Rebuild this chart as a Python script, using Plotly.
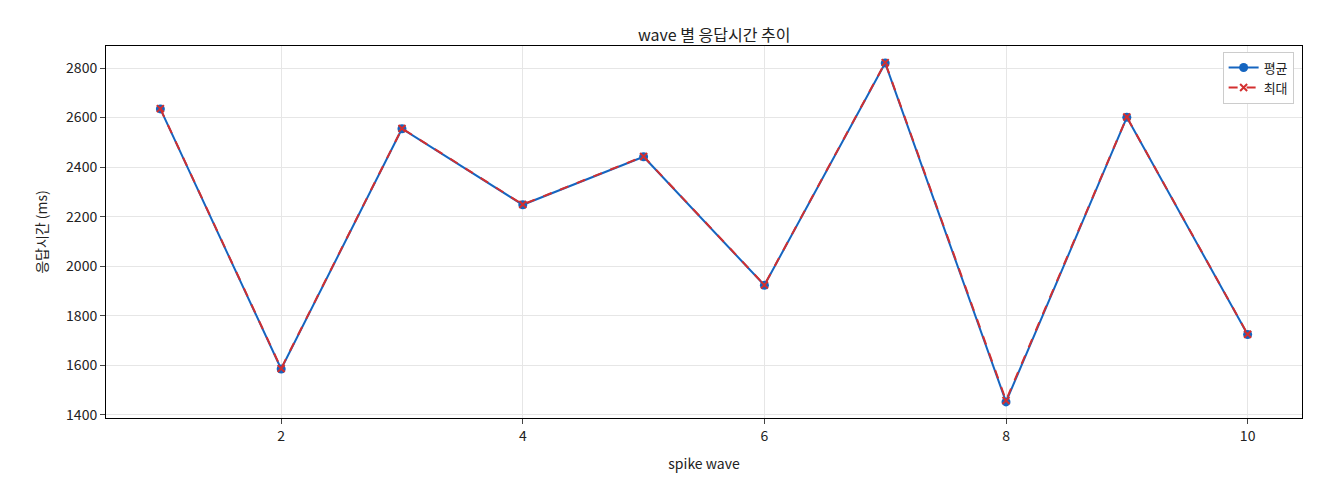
import plotly.graph_objects as go

waves = [1, 2, 3, 4, 5, 6, 7, 8, 9, 10]
avg_ms = [2635, 1585, 2555, 2248, 2442, 1923, 2820, 1452, 2601, 1724]
max_ms = [2636, 1587, 2556, 2249, 2443, 1924, 2822, 1458, 2602, 1725]
y_ticks = [1400, 1600, 1800, 2000, 2200, 2400, 2600, 2800]

fig = go.Figure()
fig.add_trace(go.Scatter(x=waves, y=avg_ms, name="평균", mode="lines+markers",
                         line=dict(color="#1565c0", width=2),
                         marker=dict(symbol="circle", size=9, color="#1565c0")))
fig.add_trace(go.Scatter(x=waves, y=max_ms, name="최대", mode="lines+markers",
                         line=dict(color="#d32f2f", width=2, dash="dash"),
                         marker=dict(symbol="x-thin", size=7, color="#d32f2f",
                                     line=dict(color="#d32f2f", width=2))))
fig.update_layout(
    width=1320, height=480, plot_bgcolor="white", paper_bgcolor="white",
    font=dict(family="Noto Sans CJK KR", size=14, color="#222"),
    title=dict(text="wave 별 응답시간 추이", x=0.535, xanchor="center", y=0.955, font=dict(size=16)),
    margin=dict(l=98, r=26, t=38, b=70),
    legend=dict(x=0.993, y=0.985, xanchor="right", yanchor="top", bordercolor="#ccc",
                borderwidth=1, bgcolor="white", font=dict(size=13), tracegroupgap=6),
    xaxis=dict(title=dict(text="spike wave", font=dict(size=14)), range=[0.55, 10.45],
               tickvals=[2, 4, 6, 8, 10], showgrid=True, gridcolor="#e6e6e6",
               showline=True, linecolor="black", mirror=True, ticks="outside", zeroline=False),
    yaxis=dict(title=dict(text="응답시간 (ms)", font=dict(size=14)), range=[1387, 2889],
               tickvals=y_ticks, showgrid=True, gridcolor="#e6e6e6",
               showline=True, linecolor="black", mirror=True, ticks="outside", zeroline=False),
)
fig.write_html("out.html")
